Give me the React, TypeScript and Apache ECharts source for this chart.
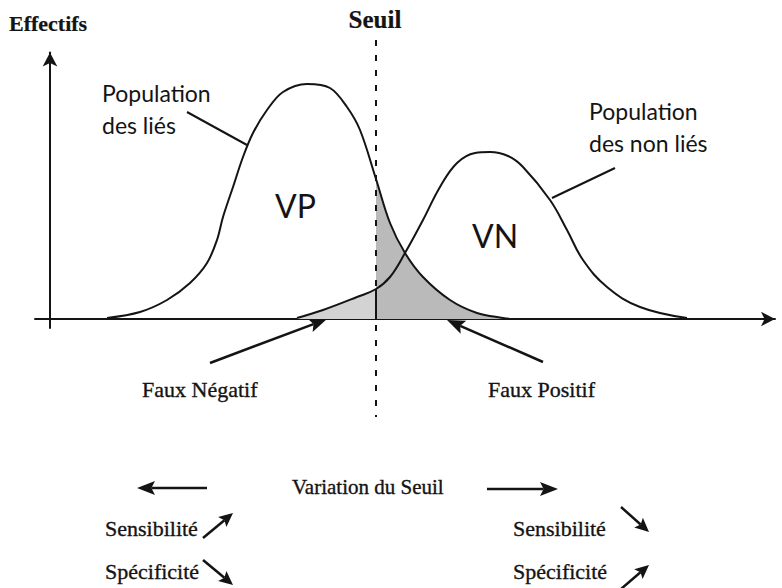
import React, { useEffect, useRef } from "react";
import * as echarts from "echarts";

// Threshold position on the x scale
const seuilX = 326;

// Population des liés (x, effectif)
const liesX = [57, 90, 117, 140, 157, 167, 173, 183, 193, 203, 217, 233, 257, 280, 297, 310, 326, 340, 355, 373, 400, 427, 453, 462];
const liesY = [1, 7, 19, 36, 56, 79, 102, 132, 162, 186, 209, 227, 235, 231, 212, 189, 140, 96, 66, 42, 19, 6, 1, 0];

// Population des non liés (x, effectif)
const nonLiesX = [247, 273, 307, 326, 340, 355, 373, 390, 407, 425, 440, 458, 473, 500, 517, 533, 557, 590, 637];
const nonLiesY = [1, 9, 22, 30, 42, 66, 99, 132, 156, 166, 167, 163, 152, 119, 89, 59, 32, 12, 1];

// Threshold line extent (y)
const seuilTop = 279;
const seuilBottom = -98;

const pairs = (xs: number[], ys: number[]) => xs.map((x, i) => [x, ys[i]]);

const INK = "#141414";
const SERIF = '"Liberation Serif", "Times New Roman", serif';
const SANS = 'Lato, "Noto Sans", sans-serif';

function arrowEls(x1: number, y1: number, x2: number, y2: number, len: number, half: number, lw = 2.5) {
  const dx = x2 - x1, dy = y2 - y1;
  const d = Math.hypot(dx, dy);
  const ux = dx / d, uy = dy / d;
  const px = -uy, py = ux;
  const bx = x2 - ux * len, by = y2 - uy * len;
  const nx = x2 - ux * len * 0.8, ny = y2 - uy * len * 0.8;
  return [
    { type: "line", shape: { x1, y1, x2: nx, y2: ny }, style: { stroke: INK, lineWidth: lw }, silent: true },
    {
      type: "polygon",
      shape: { points: [[x2, y2], [bx + px * half, by + py * half], [nx, ny], [bx - px * half, by - py * half]] },
      style: { fill: INK },
      silent: true,
    },
  ];
}

function txt(text: string, x: number, y: number, font: string, align = "left", heavy = 0) {
  const style: any = { text, font, fill: INK, align, verticalAlign: "middle" };
  if (heavy > 0) {
    style.stroke = INK;
    style.lineWidth = heavy;
  }
  return { type: "text", x, y, silent: true, style };
}

export default function App() {
  const ref = useRef<HTMLDivElement>(null);
  useEffect(() => {
    if (!ref.current) return;
    const chart = echarts.init(ref.current, null, { renderer: "svg" });
    const lies = pairs(liesX, liesY);
    const nonLies = pairs(nonLiesX, nonLiesY);
    const fnArea = nonLies.filter((p) => p[0] <= seuilX);
    const fpArea = lies.filter((p) => p[0] >= seuilX);
    const seuilCut = nonLiesY[nonLiesX.indexOf(seuilX)];

    const axisLine = { color: INK, width: 2 };
    const option: any = {
      animation: false,
      backgroundColor: "#ffffff",
      grid: [
        { left: 35, right: 7, top: 30, bottom: 158 },
        { left: 50, width: 20, top: 52.5, bottom: 260 },
      ],
      xAxis: [
        {
          gridIndex: 0, type: "value", min: -15, max: 725,
          axisLine: { show: true, onZero: true, symbol: ["none", "arrow"], symbolSize: [11, 14], lineStyle: axisLine },
          axisTick: { show: false }, axisLabel: { show: false }, splitLine: { show: false },
        },
        { gridIndex: 1, type: "value", min: 0, max: 1, show: false },
      ],
      yAxis: [
        { gridIndex: 0, type: "value", min: -111, max: 289, show: false },
        {
          gridIndex: 1, type: "value", min: 0, max: 1,
          axisLine: { show: true, symbol: ["none", "arrow"], symbolSize: [11, 14], lineStyle: axisLine },
          axisTick: { show: false }, axisLabel: { show: false }, splitLine: { show: false },
        },
      ],
      series: [
        {
          type: "line", data: fnArea, smooth: 0.35, symbol: "none", silent: true,
          lineStyle: { width: 0 }, areaStyle: { color: "#d3d3d3", opacity: 1 },
        },
        {
          type: "line", data: fpArea, smooth: 0.35, symbol: "none", silent: true,
          lineStyle: { width: 0 }, areaStyle: { color: "#bababa", opacity: 1 },
        },
        {
          type: "line", data: lies, smooth: 0.35, symbol: "none", silent: true,
          lineStyle: { color: INK, width: 2 },
          markLine: {
            silent: true, symbol: ["none", "none"], label: { show: false },
            data: [
              [
                { coord: [seuilX, seuilTop], lineStyle: { type: [6, 9], color: INK, width: 2 } },
                { coord: [seuilX, seuilBottom] },
              ],
              [
                { coord: [seuilX, 0], lineStyle: { type: "solid", color: INK, width: 2 } },
                { coord: [seuilX, seuilCut] },
              ],
            ],
          },
        },
        {
          type: "line", data: nonLies, smooth: 0.4, symbol: "none", silent: true,
          lineStyle: { color: INK, width: 2 },
        },
      ],
      graphic: {
        elements: [
          txt("Effectifs", 9, 23, `bold 22px ${SERIF}`, "left", 0.2),
          txt("Seuil", 375, 19, `bold 25px ${SERIF}`, "center", 0.2),
          txt("Population", 102, 93, `23px ${SANS}`),
          txt("des liés", 102, 125, `23px ${SANS}`),
          txt("Population", 589, 111, `23px ${SANS}`),
          txt("des non liés", 589, 143, `23px ${SANS}`),
          txt("VP", 275, 205, `32px ${SANS}`),
          txt("VN", 472, 235, `32px ${SANS}`),
          txt("Faux Négatif", 142, 389, `22px ${SERIF}`, "left", 0.35),
          txt("Faux Positif", 488, 389, `22px ${SERIF}`, "left", 0.35),
          txt("Variation du Seuil", 292, 487, `21px ${SERIF}`, "left", 0.35),
          txt("Sensibilité", 105, 528, `22px ${SERIF}`, "left", 0.35),
          txt("Spécificité", 105, 571, `22px ${SERIF}`, "left", 0.35),
          txt("Sensibilité", 513, 528, `22px ${SERIF}`, "left", 0.35),
          txt("Spécificité", 513, 571, `22px ${SERIF}`, "left", 0.35),
          { type: "line", shape: { x1: 187, y1: 112, x2: 247, y2: 145 }, style: { stroke: INK, lineWidth: 2 }, silent: true },
          { type: "line", shape: { x1: 615, y1: 168, x2: 552, y2: 198 }, style: { stroke: INK, lineWidth: 2 }, silent: true },
          ...arrowEls(210, 363, 327, 319, 18, 7),
          ...arrowEls(543, 362, 447, 320, 18, 7),
          ...arrowEls(207, 488, 137, 488, 18, 7),
          ...arrowEls(487, 489, 558, 489, 18, 7),
          ...arrowEls(203, 538, 233, 513, 14, 6.5),
          ...arrowEls(203, 560, 233, 585, 14, 6.5),
          ...arrowEls(621, 507, 649, 532, 14, 6.5),
          ...arrowEls(621, 589, 649, 565, 14, 6.5),
        ],
      },
    };
    chart.setOption(option);
    return () => chart.dispose();
  }, []);
  return (
    <div
      ref={ref}
      style={{ position: "absolute", left: 0, top: 0, width: 782, height: 588, background: "#fff" }}
    />
  );
}
